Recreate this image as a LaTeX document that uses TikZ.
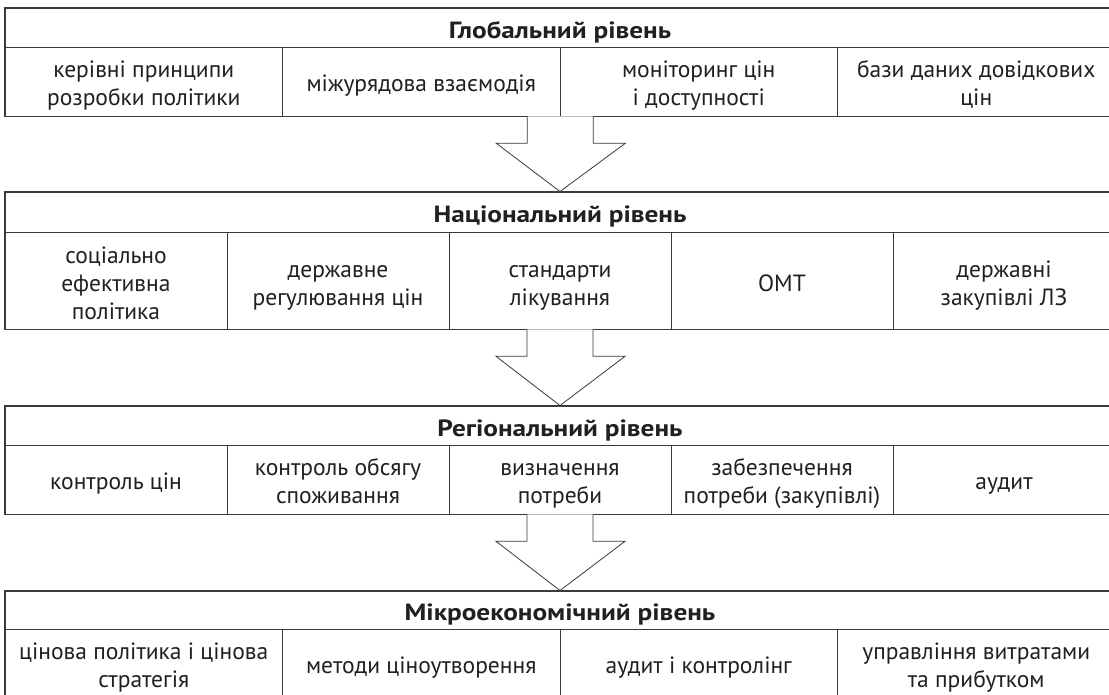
\documentclass[tikz,border=0pt]{standalone}
\usepackage{fontspec}
\setmainfont{PT Sans}
\newfontfamily\headfont{PT Sans}[FakeStretch=1.16]
\usetikzlibrary{calc}
\definecolor{linec}{HTML}{3A3A3A}
\definecolor{txtc}{HTML}{231F20}
\newcommand{\celltext}[2]{\rule{0pt}{#1pt}#2\rule[-8pt]{0pt}{8pt}}
\tikzset{
  cellbox/.style={draw=linec, line width=0.6pt, inner sep=0pt, align=center,
    text=txtc, font=\fontsize{23.5}{28}\selectfont},
  headbox/.style={draw=linec, line width=1pt, inner sep=0pt, align=center,
    text=txtc, font=\headfont\fontsize{23.5}{28}\selectfont\bfseries,
    minimum width=1110pt, text height=29.4pt, text depth=8pt},
  blockarrow/.style={draw=linec, line width=0.8pt, fill=white, line join=miter}
}
\begin{document}
\begin{tikzpicture}[x=1pt,y=-1pt]
\clip (0,0) rectangle (1109,694);
\fill[white] (0,0) rectangle (1109,694);
% ---- Global level
\node[headbox, minimum height=39pt] (gh) at (560,27.5) {Глобальний рівень};
\foreach \i/\t in {1/{керівні принципи\\розробки політики},2/{міжурядова взаємодія},3/{моніторинг цін\\і доступності},4/{бази даних довідкових\\цін}}{
  \node[cellbox, minimum width=277.5pt, minimum height=69pt] (g\i) at ({5+277.5*(\i-0.5)},81.5) {\celltext{28.8}{\t}};
}
% ---- National level
\node[headbox, minimum height=40pt] (nh) at (560,212) {Національний рівень};
\foreach \i/\t in {1/{соціально\\ефективна\\політика},2/{державне\\регулювання цін},3/{стандарти\\лікування},4/{ОМТ},5/{державні\\закупівлі ЛЗ}}{
  \node[cellbox, minimum width=222pt, minimum height=97pt] (n\i) at ({5+222*(\i-0.5)},280.5) {\celltext{29.8}{\t}};
}
% ---- Regional level
\node[headbox, minimum height=39pt] (rh) at (560,425.5) {Регіональний рівень};
\foreach \i/\t in {1/{контроль цін},2/{контроль обсягу\\споживання},3/{визначення\\потреби},4/{забезпечення\\потреби (закупівлі)},5/{аудит}}{
  \node[cellbox, minimum width=222pt, minimum height=69pt] (r\i) at ({5+222*(\i-0.5)},479.5) {\celltext{28.8}{\t}};
}
% ---- Microeconomic level
\node[headbox, minimum height=38pt] (mh) at (560,610) {Мікроекономічний рівень};
\foreach \i/\t in {1/{цінова політика і цінова\\стратегія},2/{методи ціноутворення},3/{аудит і контролінг},4/{управління витратами\\та прибутком}}{
  \node[cellbox, minimum width=277.5pt, minimum height=69pt] (m\i) at ({5+277.5*(\i-0.5)},663.5) {\celltext{28.8}{\t}};
}
% ---- outer frames
\draw[linec, line width=1pt] (gh.north west) rectangle (g4.south east);
\draw[linec, line width=1pt] (nh.north west) rectangle (n5.south east);
\draw[linec, line width=1pt] (rh.north west) rectangle (r5.south east);
\draw[linec, line width=1pt] (mh.north west) rectangle (m4.south east);
% ---- block arrows between levels
\draw[blockarrow] ($(g2.south east)+(-33,0)$) -- ++(0,27) -- ++(-31,0) -- (nh.north)
  -- ($(g2.south east)+(65,27)$) -- ++(-32,0) -- ($(g2.south east)+(33,0)$);
\draw[blockarrow] ($(n3.south)+(-33,0)$) -- ++(0,27) -- ++(-31,0) -- (rh.north)
  -- ($(n3.south)+(65,27)$) -- ++(-32,0) -- ($(n3.south)+(33,0)$);
\draw[blockarrow] ($(r3.south)+(-33,0)$) -- ++(0,27) -- ++(-31,0) -- (mh.north)
  -- ($(r3.south)+(65,27)$) -- ++(-32,0) -- ($(r3.south)+(33,0)$);
\end{tikzpicture}
\end{document}
